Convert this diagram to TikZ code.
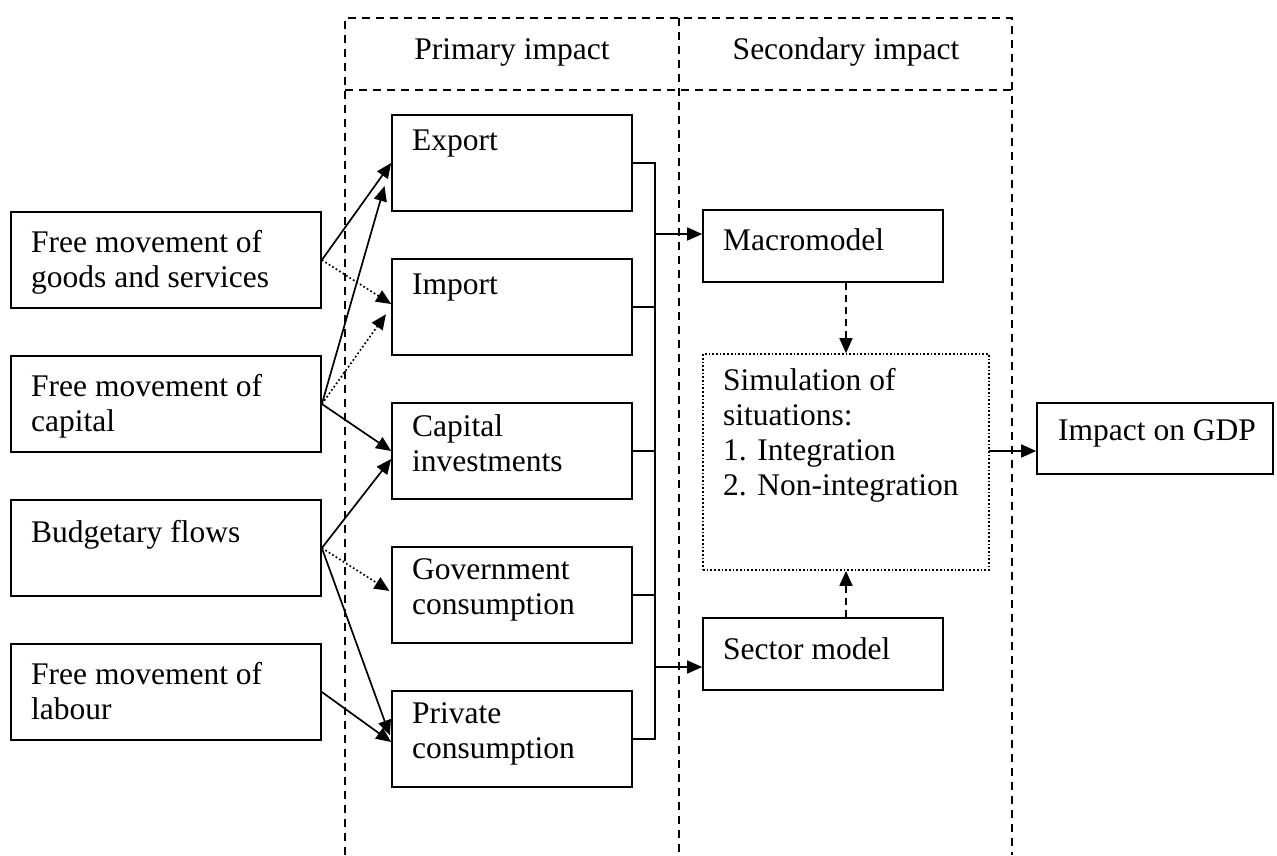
\documentclass[tikz,border=0pt]{standalone}
\usepackage{fontspec}
\setmainfont{Liberation Serif}
\usetikzlibrary{arrows.meta}

\begin{document}
\begin{tikzpicture}[x=1pt, y=-1pt,
  box/.style={draw, line width=1.7pt, rectangle, inner sep=0pt},
  dotbox/.style={draw, line width=1.7pt, rectangle, inner sep=0pt, dash pattern=on 1.7pt off 2pt},
  txt/.style={anchor=north west, inner sep=0pt, align=left,
    font=\fontsize{31.5}{35}\selectfont, execute at begin node=\strut},
  head/.style={anchor=base, inner sep=0pt, font=\fontsize{31.5}{35}\selectfont},
  frame/.style={line width=1.7pt, dash pattern=on 8pt off 6pt},
  wire/.style={line width=1.7pt},
  arr/.style={line width=1.7pt, -{Triangle[length=15pt,width=13pt]}},
  arrdot/.style={arr, dash pattern=on 1.7pt off 2.4pt},
  arrdash/.style={arr, dash pattern=on 7pt off 5pt}
]
\useasboundingbox (0,0) rectangle (1277,855);

% column frame
\draw[frame] (345,855) -- (345,18) -- (1012,18) -- (1012,855);
\draw[frame] (345,90) -- (1012,90);
\draw[frame] (679,18) -- (679,855);
\node[head] (hprim) at (512,59) {Primary impact};
\node[head] (hsec)  at (846,59) {Secondary impact};

% sources
\node[box, minimum width=310pt, minimum height=96pt] (goods)   at (166,260) {};
\node[box, minimum width=310pt, minimum height=96pt] (capital) at (166,404) {};
\node[box, minimum width=310pt, minimum height=96pt] (budget)  at (166,548) {};
\node[box, minimum width=310pt, minimum height=96pt] (labour)  at (166,692) {};
\node[txt] (goodsT)   at (31,230) {Free movement of\\goods and services};
\node[txt] (capitalT) at (31,374) {Free movement of\\capital};
\node[txt] (budgetT)  at (31,518) {Budgetary flows};
\node[txt] (labourT)  at (31,662) {Free movement of\\labour};

% primary impacts
\node[box, minimum width=240pt, minimum height=96pt] (export)  at (512,163) {};
\node[box, minimum width=240pt, minimum height=96pt] (import)  at (512,307) {};
\node[box, minimum width=240pt, minimum height=96pt] (capinv)  at (512,451) {};
\node[box, minimum width=240pt, minimum height=96pt] (govcons) at (512,595) {};
\node[box, minimum width=240pt, minimum height=96pt] (privcons) at (512,739) {};
\node[txt] (exportT)  at (412,126) {Export};
\node[txt] (importT)  at (412,270) {Import};
\node[txt] (capinvT)  at (412,414) {Capital\\investments};
\node[txt] (govconsT) at (412,558) {Government\\consumption};
\node[txt] (privconsT) at (412,702) {Private\\consumption};

% secondary impacts
\node[box, minimum width=240pt, minimum height=72pt] (macro)  at (823,246) {};
\node[dotbox, minimum width=286pt, minimum height=216pt] (sim) at (846,462) {};
\node[box, minimum width=240pt, minimum height=72pt] (sector) at (823,654) {};
\node[box, minimum width=236pt, minimum height=71pt] (gdp)    at (1155,438.5) {};
\node[txt] (macroT)  at (723,226) {Macromodel};
\node[txt] (simT)    at (723,368) {Simulation of\\situations:\\1. Integration\\2. Non-integration};
\node[txt] (sectorT) at (723,635) {Sector model};
\node[txt] (gdpT)    at (1058,416) {Impact on GDP};

% sources to primary impacts
\draw[arr] (goods.east) -- (export.west);
\draw[arrdot] (goods.east) -- ([yshift=3pt]import.west);
\draw[arr, shorten >=24pt] (capital.east) -- (export.west);
\draw[arrdot, shorten >=9pt] (capital.east) -- (import.west);
\draw[arr] (capital.east) -- (capinv.west);
\draw[arr] (budget.east) -- ([yshift=-8pt]capinv.west);
\draw[arrdot, shorten >=2pt] (budget.east) -- ([yshift=3pt]govcons.west);
\draw[arr, shorten >=4pt] (budget.east) -- (privcons.west);
\draw[arr] (labour.east) -- ([yshift=-3pt]privcons.west);

% collecting bus
\coordinate (bt) at (655,163);
\coordinate (bb) at (655,739);
\draw[wire] (export.east) -- (bt) -- (bb) -- (privcons.east);
\draw[wire] (import.east) -- (import.east -| bt);
\draw[wire] (capinv.east) -- (capinv.east -| bt);
\draw[wire] (govcons.east) -- (govcons.east -| bt);
\coordinate (m1) at (655,234);
\coordinate (s1) at (655,667);
\draw[arr] (m1) -- (m1 -| macro.west);
\draw[arr] (s1) -- (s1 -| sector.west);

% models to simulation and result
\draw[arrdash] (sim.north |- macro.south) -- (sim.north);
\draw[arrdash] (sim.south |- sector.north) -- (sim.south);
\coordinate (g1) at (989,451);
\draw[arr] (g1) -- (g1 -| gdp.west);
\end{tikzpicture}
\end{document}
